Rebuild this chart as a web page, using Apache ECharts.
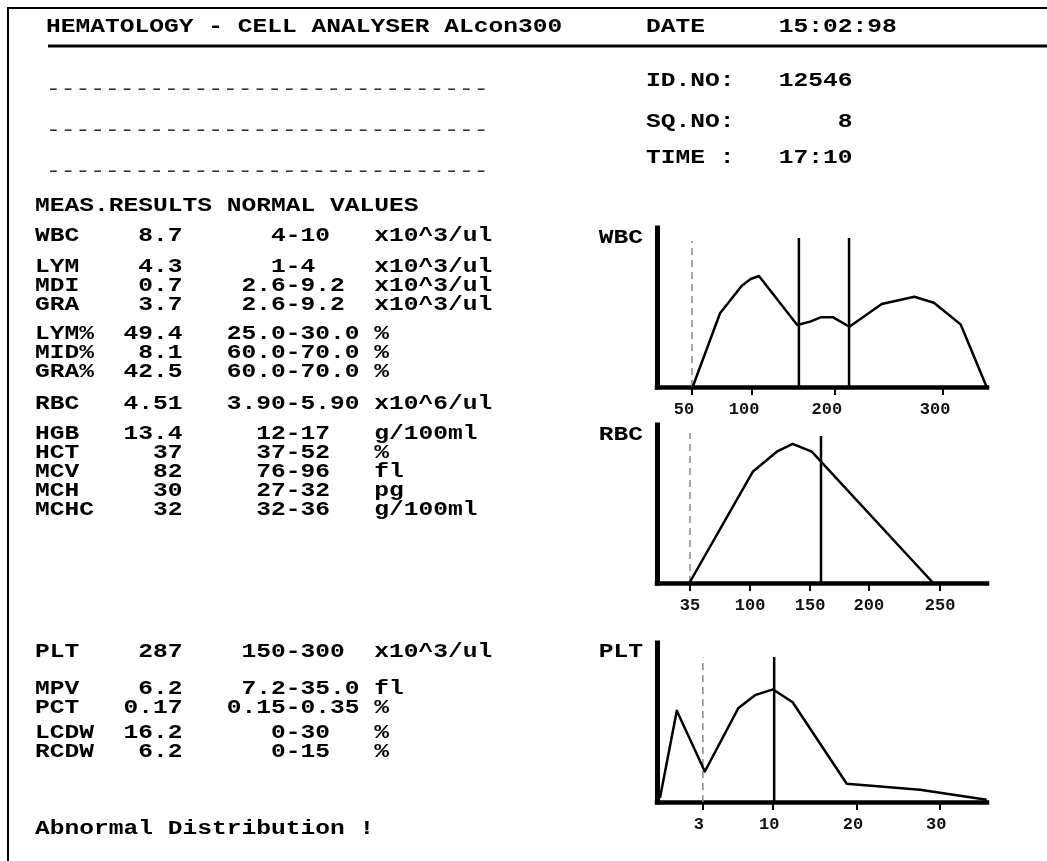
<!DOCTYPE html>
<html>
<head>
<meta charset="utf-8">
<script src="https://cdn.jsdelivr.net/npm/echarts@6/dist/echarts.min.js"></script>
<style>
html,body{margin:0;padding:0;background:#fff;}
#chart{width:1047px;height:861px;}
</style>
</head>
<body>
<div id="chart"></div>
<script>
// ---------- DATA ----------
const headerTitle = 'HEMATOLOGY - CELL ANALYSER ALcon300';
const infoLabels = ['DATE', 'ID.NO:', 'SQ.NO:', 'TIME :'];
const infoValues = ['15:02:98', '12546', '8', '17:10'];
const tableHeading = 'MEAS.RESULTS NORMAL VALUES';
const paramNames  = ['WBC','LYM','MDI','GRA','LYM%','MID%','GRA%','RBC','HGB','HCT','MCV','MCH','MCHC','PLT','MPV','PCT','LCDW','RCDW'];
const paramValues = ['8.7','4.3','0.7','3.7','49.4','8.1','42.5','4.51','13.4','37','82','30','32','287','6.2','0.17','16.2','6.2'];
const paramRanges = ['4-10','1-4','2.6-9.2','2.6-9.2','25.0-30.0','60.0-70.0','60.0-70.0','3.90-5.90','12-17','37-52','76-96','27-32','32-36','150-300','7.2-35.0','0.15-0.35','0-30','0-15'];
const paramUnits  = ['x10^3/ul','x10^3/ul','x10^3/ul','x10^3/ul','%','%','%','x10^6/ul','g/100ml','%','fl','pg','g/100ml','x10^3/ul','fl','%','%','%'];
const footerText = 'Abnormal Distribution !';

// histogram channels (0-100 along the analyser's x scale) and heights (0-100)
const wbcX = [10.8, 19.1, 25.7, 28.4, 30.9, 42.5, 46.4, 49.6, 53.4, 58.3, 68.1, 78.0, 83.9, 92.0, 99.9];
const wbcY = [0, 46.4, 63.7, 67.9, 69.8, 39.0, 41.1, 43.8, 43.8, 37.9, 52.2, 56.8, 53.0, 39.4, 0];
const wbcTickPos = [10.6, 28.8, 53.9, 86.7];
const wbcTickLabels = ['50', '100', '200', '300'];
const wbcDiscriminators = [43.0, 58.2];

const rbcX = [9.8, 29.0, 36.3, 41.1, 46.9, 83.7];
const rbcY = [0, 70.4, 83.1, 88.0, 83.1, 0];
const rbcTickPos = [10.0, 28.2, 46.4, 64.2, 85.8];
const rbcTickLabels = ['35', '100', '150', '200', '250'];
const rbcDiscriminators = [49.7];

const pltX = [0.9, 6.0, 14.5, 24.6, 29.7, 35.2, 41.1, 57.5, 79.7, 99.9];
const pltY = [2.5, 57.4, 19.2, 58.9, 67.2, 70.8, 62.7, 11.5, 7.7, 1.4];
const pltTickPos = [13.9, 35.2, 60.6, 85.8];
const pltTickLabels = ['3', '10', '20', '30'];
const pltDiscriminators = [35.5];

// ---------- LAYOUT ----------
const CHAR_W = 14.75, FS = 20, SX = CHAR_W / (FS * 0.6);
const FONT = '"Courier New", "Liberation Mono", monospace';
const rowY = [236, 267, 286, 305, 334, 353, 372, 404, 434, 453, 472, 491, 510, 652, 689, 708, 733, 752];

function txt(s, x, y, opts) {
  opts = opts || {};
  return {
    type: 'text', x: x, y: y, scaleX: SX, silent: true,
    style: {
      text: s, fill: opts.fill || '#000', fontSize: FS, fontFamily: FONT,
      fontWeight: opts.weight || 'bold', verticalAlign: 'middle', align: opts.align || 'left'
    }
  };
}

const graphics = [];
graphics.push({ type: 'rect', silent: true, shape: { x: 8, y: 8, width: 1100, height: 900 },
  style: { fill: 'none', stroke: '#000', lineWidth: 2 } });
graphics.push({ type: 'line', silent: true, shape: { x1: 48, y1: 46, x2: 1047, y2: 46 },
  style: { stroke: '#000', lineWidth: 3 } });
graphics.push(txt(headerTitle, 46, 27));
const infoY = [27, 81, 122, 158];
infoLabels.forEach((l, i) => graphics.push(txt(l.padEnd(9) + infoValues[i].padStart(5), 646, infoY[i])));
[90, 131, 172].forEach(y => graphics.push(txt('-'.repeat(30), 46, y, { weight: 'normal', fill: '#333' })));
graphics.push(txt(tableHeading, 35, 206));
paramNames.forEach((n, i) => {
  const r = paramRanges[i];
  let line = n.padEnd(6) + paramValues[i].padStart(4);
  line += ' '.repeat(Math.max(1, 17 - line.length - r.indexOf('-'))) + r;
  line = line.padEnd(23) + paramUnits[i];
  graphics.push(txt(line, 35, rowY[i]));
});
graphics.push(txt(footerText, 35, 829));
graphics.push(txt('WBC', 643, 238, { align: 'right' }));
graphics.push(txt('RBC', 643, 435, { align: 'right' }));
graphics.push(txt('PLT', 643, 652, { align: 'right' }));

// ---------- CHARTS ----------
const panels = [
  { top: 228, height: 159, x: wbcX, y: wbcY, ticks: wbcTickPos, labels: wbcTickLabels, disc: wbcDiscriminators, discTop: 93.7, dashTop: 91.8, shift: 16 },
  { top: 425, height: 158, x: rbcX, y: rbcY, ticks: rbcTickPos, labels: rbcTickLabels, disc: rbcDiscriminators, discTop: 93.0, dashTop: 94.9, shift: 0 },
  { top: 643, height: 159, x: pltX, y: pltY, ticks: pltTickPos, labels: pltTickLabels, disc: pltDiscriminators, discTop: 91.2, dashTop: 90.9, shift: 8 }
];

const grid = [], xAxis = [], yAxis = [], series = [];
panels.forEach((p, i) => {
  grid.push({ left: 657, width: 330, top: p.top, height: p.height });
  xAxis.push({
    type: 'value', gridIndex: i, min: 0, max: 100,
    axisLine: { show: true, onZero: false, lineStyle: { color: '#000', width: 4.5, cap: 'square' } },
    axisTick: { show: true, customValues: p.ticks, length: 8, lineStyle: { color: '#000', width: 2 } },
    axisLabel: {
      customValues: p.ticks, margin: 14, color: '#111', fontSize: 17, fontWeight: 'bold',
      fontFamily: '"Liberation Mono", monospace', padding: [0, p.shift, 0, 0],
      formatter: v => { const k = p.ticks.indexOf(v); return k >= 0 ? p.labels[k] : ''; }
    },
    splitLine: { show: false }
  });
  yAxis.push({
    type: 'value', gridIndex: i, min: 0, max: 100,
    axisLine: { show: true, lineStyle: { color: '#000', width: 5, cap: 'square' } },
    axisTick: { show: false }, axisLabel: { show: false }, splitLine: { show: false }
  });
  series.push({
    type: 'line', xAxisIndex: i, yAxisIndex: i, symbol: 'none', silent: true, z: 3,
    data: p.x.map((v, k) => [v, p.y[k]]),
    lineStyle: { color: '#000', width: 2.5, join: 'round' }
  });
  // dashed lower-threshold marker at the first tick
  series.push({
    type: 'line', xAxisIndex: i, yAxisIndex: i, symbol: 'none', silent: true, z: 2,
    data: [[p.ticks[0], 0], [p.ticks[0], p.dashTop]],
    lineStyle: { color: '#888', width: 1.5, type: [7, 5] }
  });
  p.disc.forEach(d => series.push({
    type: 'line', xAxisIndex: i, yAxisIndex: i, symbol: 'none', silent: true, z: 3,
    data: [[d, 0], [d, p.discTop]],
    lineStyle: { color: '#000', width: 2.5 }
  }));
});

const chart = echarts.init(document.getElementById('chart'), null, { renderer: 'canvas' });
chart.setOption({
  backgroundColor: '#fff',
  animation: false,
  grid: grid, xAxis: xAxis, yAxis: yAxis, series: series,
  graphic: { elements: graphics }
});
</script>
</body>
</html>
